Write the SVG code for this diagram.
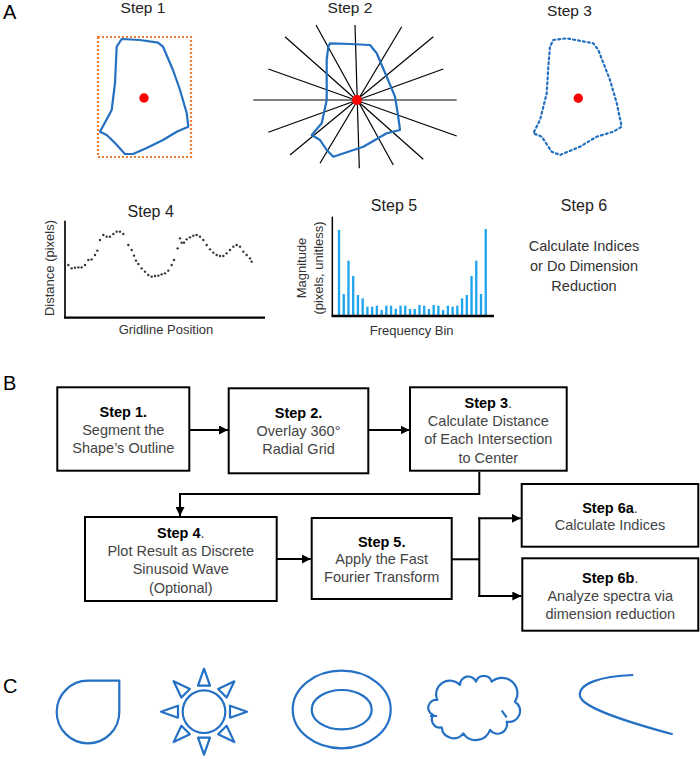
<svg xmlns="http://www.w3.org/2000/svg" width="700" height="759" viewBox="0 0 700 759">
<defs>
<style>
text{font-family:"Liberation Sans",Arial,sans-serif;}
.lbl{font-size:20px;fill:#000;}
.ttl{font-size:15.5px;fill:#222;text-anchor:middle;}
.ax{font-size:13px;fill:#333;text-anchor:middle;}
.bt{font-size:14.5px;fill:#444;text-anchor:middle;}
.bb{font-weight:bold;fill:#000;}
.box{fill:#fff;stroke:#000;stroke-width:2;}
.blob{fill:none;stroke:#2470C0;stroke-width:2.2;stroke-linejoin:round;stroke-linecap:round;}
.grid line{stroke:#000;stroke-width:1.2;}
.conn{fill:none;stroke:#000;stroke-width:2;}
.shp{fill:none;stroke:#2470C4;stroke-width:2.2;stroke-linejoin:round;}
.dot{fill:#333;}
.bar{fill:#1FA5EE;}
</style>
<marker id="ah" markerUnits="userSpaceOnUse" markerWidth="9" markerHeight="9" refX="9" refY="4.5" orient="auto">
<path d="M0,0 L9,4.5 L0,9 z" fill="#000"/>
</marker>
<path id="tri" d="M0,-43 L6,-26 L-6,-26 Z"/>
</defs>

<!-- Panel A -->
<text class="lbl" x="3" y="18.5">A</text>

<g id="stepA1">
<text class="ttl" x="143" y="13">Step 1</text>
<rect x="98" y="37" width="93" height="120" fill="none" stroke="#ED7D31" stroke-width="2.2" stroke-dasharray="2 2"/>
<path class="blob" d="M121.7,39 L140,40 L158,42.7 L163,46.7 L173,70 L180,90 L186.7,113 L188.3,126.7 L176.7,131.7 L163,140 L146.7,148 L133,154 L125,154 L115,143 L106.7,135 L100,131.7 L111.7,110 L115,83 L116.7,46.7 Z"/>
<circle cx="144" cy="98" r="4.7" fill="#FF0000"/>
</g>

<g id="stepA2">
<text class="ttl" x="350" y="13">Step 2</text>
<g class="grid">
<line x1="253.3" y1="100" x2="456.7" y2="100"/>
<line x1="355" y1="25" x2="359.3" y2="168.3"/>
<line x1="285" y1="36.7" x2="423.3" y2="159.3"/>
<line x1="316" y1="25" x2="393.3" y2="165"/>
<line x1="268.3" y1="69" x2="456.7" y2="136"/>
<line x1="401.7" y1="26.7" x2="320" y2="163.3"/>
<line x1="443.3" y1="69" x2="268.3" y2="132.3"/>
<line x1="433.3" y1="36.7" x2="290" y2="155"/>
</g>
<path class="blob" d="M330,43.3 L350,44 L370,45 L376.7,53.3 L386.7,76.7 L395,96.7 L398,115 L400,130 L386.7,133.3 L363.3,146.7 L333.3,156.7 L326.7,150 L320,140 L311.7,135 L321.7,123.3 L326.7,100 L326.7,60 L328.3,46.7 Z"/>
<circle cx="357" cy="100" r="5" fill="#FF0000"/>
</g>

<g id="stepA3">
<text class="ttl" x="569.5" y="15.5">Step 3</text>
<path class="blob" stroke-dasharray="2 3" stroke-linecap="butt" d="M553.3,40 L566.7,38.3 L593.3,43.3 L598.3,50 L610,80 L616.7,103 L621.7,126.7 L613.3,131.7 L596.7,136.7 L580,146.7 L560,155 L551.7,151.7 L541.7,136.7 L533.3,133.3 L540,120 L546.7,93.3 L548.3,66.7 L550,46.7 Z"/>
<circle cx="578.3" cy="98.3" r="4.7" fill="#FF0000"/>
</g>

<g id="stepA4">
<text class="ttl" x="150.7" y="216.5" style="font-size:16px">Step 4</text>
<text class="ax" transform="translate(53.5,268) rotate(-90)">Distance (pixels)</text>
<text class="ax" x="166" y="334">Gridline Position</text>
<g transform="translate(30,190) scale(0.33333)">
<line x1="105" y1="92" x2="105" y2="385" stroke="#000" stroke-width="5"/>
<line x1="102" y1="383" x2="705" y2="383" stroke="#000" stroke-width="7"/>
<g class="dot">
<circle cx="115" cy="225" r="3.6"/><circle cx="125" cy="235" r="3.6"/><circle cx="135" cy="233" r="3.6"/><circle cx="145" cy="232" r="3.6"/><circle cx="155" cy="232" r="3.6"/><circle cx="165" cy="225" r="3.6"/><circle cx="175" cy="210" r="3.6"/><circle cx="185" cy="208" r="3.6"/><circle cx="195" cy="195" r="3.6"/><circle cx="202" cy="182" r="3.6"/><circle cx="210" cy="150" r="3.6"/><circle cx="220" cy="135" r="3.6"/><circle cx="230" cy="140" r="3.6"/><circle cx="240" cy="140" r="3.6"/><circle cx="250" cy="132" r="3.6"/><circle cx="260" cy="125" r="3.6"/><circle cx="270" cy="125" r="3.6"/><circle cx="280" cy="132" r="3.6"/><circle cx="295" cy="165" r="3.6"/><circle cx="305" cy="180" r="3.6"/><circle cx="312" cy="197" r="3.6"/><circle cx="318" cy="212" r="3.6"/><circle cx="325" cy="222" r="3.6"/><circle cx="335" cy="235" r="3.6"/><circle cx="345" cy="245" r="3.6"/><circle cx="355" cy="255" r="3.6"/><circle cx="365" cy="260" r="3.6"/><circle cx="375" cy="258" r="3.6"/><circle cx="385" cy="257" r="3.6"/><circle cx="395" cy="253" r="3.6"/><circle cx="405" cy="250" r="3.6"/><circle cx="415" cy="242" r="3.6"/><circle cx="425" cy="225" r="3.6"/><circle cx="432" cy="210" r="3.6"/><circle cx="443" cy="175" r="3.6"/><circle cx="450" cy="145" r="3.6"/><circle cx="455" cy="158" r="3.6"/><circle cx="462" cy="158" r="3.6"/><circle cx="470" cy="148" r="3.6"/><circle cx="480" cy="142" r="3.6"/><circle cx="490" cy="137" r="3.6"/><circle cx="500" cy="135" r="3.6"/><circle cx="510" cy="140" r="3.6"/><circle cx="520" cy="150" r="3.6"/><circle cx="530" cy="165" r="3.6"/><circle cx="540" cy="178" r="3.6"/><circle cx="550" cy="188" r="3.6"/><circle cx="560" cy="195" r="3.6"/><circle cx="570" cy="198" r="3.6"/><circle cx="580" cy="198" r="3.6"/><circle cx="590" cy="190" r="3.6"/><circle cx="600" cy="180" r="3.6"/><circle cx="610" cy="170" r="3.6"/><circle cx="620" cy="165" r="3.6"/><circle cx="630" cy="170" r="3.6"/><circle cx="640" cy="185" r="3.6"/><circle cx="650" cy="195" r="3.6"/><circle cx="660" cy="205" r="3.6"/><circle cx="665" cy="215" r="3.6"/>
</g>
</g>
</g>

<g id="stepA5">
<text class="ttl" x="394" y="210.5" style="font-size:16px">Step 5</text>
<text class="ax" transform="translate(306,268) rotate(-90)">Magnitude</text>
<text class="ax" transform="translate(322.5,268) rotate(-90)">(pixels, unitless)</text>
<text class="ax" x="411.7" y="334.5">Frequency Bin</text>
<g transform="translate(280,190) scale(0.33333)">
<g class="bar">
<rect x="173.5" y="120" width="7" height="255"/><rect x="187.7" y="312" width="7" height="63"/><rect x="201.9" y="212" width="7" height="163"/><rect x="216.1" y="258" width="7" height="117"/><rect x="230.3" y="315" width="7" height="60"/><rect x="244.5" y="325" width="7" height="50"/><rect x="258.7" y="350" width="7" height="25"/><rect x="272.9" y="350" width="7" height="25"/><rect x="287.1" y="347" width="7" height="28"/><rect x="301.3" y="360" width="7" height="15"/><rect x="315.5" y="347" width="7" height="28"/><rect x="329.7" y="347" width="7" height="28"/><rect x="343.9" y="356" width="7" height="19"/><rect x="358.1" y="347" width="7" height="28"/><rect x="372.3" y="347" width="7" height="28"/><rect x="386.5" y="357" width="7" height="18"/><rect x="400.7" y="357" width="7" height="18"/><rect x="414.9" y="345" width="7" height="30"/><rect x="429.1" y="347" width="7" height="28"/><rect x="443.3" y="357" width="7" height="18"/><rect x="457.5" y="345" width="7" height="30"/><rect x="471.7" y="347" width="7" height="28"/><rect x="485.9" y="360" width="7" height="15"/><rect x="500.1" y="347" width="7" height="28"/><rect x="514.3" y="350" width="7" height="25"/><rect x="528.5" y="347" width="7" height="28"/><rect x="542.7" y="325" width="7" height="50"/><rect x="556.9" y="315" width="7" height="60"/><rect x="571.1" y="258" width="7" height="117"/><rect x="585.3" y="212" width="7" height="163"/><rect x="599.5" y="312" width="7" height="63"/><rect x="613.7" y="117" width="7" height="258"/>
</g>
<line x1="157" y1="80" x2="157" y2="380" stroke="#000" stroke-width="4.5"/>
<line x1="155" y1="378" x2="642" y2="378" stroke="#000" stroke-width="7"/>
</g>
</g>

<g id="stepA6">
<text class="ttl" x="584" y="210.5" style="font-size:16px">Step 6</text>
<text class="bt" x="584" y="251" style="fill:#333">Calculate Indices</text>
<text class="bt" x="584" y="271" style="fill:#333">or Do Dimension</text>
<text class="bt" x="584" y="291" style="fill:#333">Reduction</text>
</g>

<!-- Panel B -->
<text class="lbl" x="3" y="390">B</text>

<g id="connectors">
<line class="conn" x1="189.3" y1="430" x2="228" y2="430" marker-end="url(#ah)"/>
<line class="conn" x1="368.3" y1="430" x2="409.5" y2="430" marker-end="url(#ah)"/>
<path class="conn" d="M479.3,471.7 V494 H180 V516" marker-end="url(#ah)"/>
<line class="conn" x1="276.7" y1="559" x2="310.8" y2="559" marker-end="url(#ah)"/>
<path class="conn" d="M451.7,559.3 H479.3"/>
<path class="conn" d="M479.3,517.3 V597"/>
<line class="conn" x1="478.3" y1="518.3" x2="520.8" y2="518.3" marker-end="url(#ah)"/>
<line class="conn" x1="478.3" y1="596" x2="521.3" y2="596" marker-end="url(#ah)"/>
</g>

<g id="box1">
<rect class="box" x="57.3" y="387.3" width="132" height="83.4"/>
<text class="bt" x="123.3" y="417"><tspan class="bb">Step 1.</tspan></text>
<text class="bt" x="123.3" y="435">Segment the</text>
<text class="bt" x="123.3" y="453">Shape’s Outline</text>
</g>

<g id="box2">
<rect class="box" x="228.7" y="388.3" width="139.6" height="85"/>
<text class="bt" x="298.5" y="418.3"><tspan class="bb">Step 2.</tspan></text>
<text class="bt" x="298.5" y="436">Overlay 360°</text>
<text class="bt" x="298.5" y="454">Radial Grid</text>
</g>

<g id="box3">
<rect class="box" x="410" y="387.3" width="156.7" height="83.4"/>
<text class="bt" x="488.3" y="407.7"><tspan class="bb">Step 3</tspan>.</text>
<text class="bt" x="488.3" y="425.7">Calculate Distance</text>
<text class="bt" x="488.3" y="444">of Each Intersection</text>
<text class="bt" x="488.3" y="462.7">to Center</text>
</g>

<g id="box4">
<rect class="box" x="85" y="517" width="191.7" height="84"/>
<text class="bt" x="180.8" y="537.7"><tspan class="bb">Step 4</tspan>.</text>
<text class="bt" x="180.8" y="556">Plot Result as Discrete</text>
<text class="bt" x="180.8" y="574.3">Sinusoid Wave</text>
<text class="bt" x="180.8" y="593">(Optional)</text>
</g>

<g id="box5">
<rect class="box" x="311.7" y="518" width="140" height="81"/>
<text class="bt" x="381.7" y="546.7"><tspan class="bb">Step 5.</tspan></text>
<text class="bt" x="381.7" y="564.3">Apply the Fast</text>
<text class="bt" x="381.7" y="582.3">Fourier Transform</text>
</g>

<g id="box6a">
<rect class="box" x="521.7" y="484" width="176.6" height="62.7"/>
<text class="bt" x="610" y="513.3"><tspan class="bb">Step 6a</tspan>.</text>
<text class="bt" x="610" y="530">Calculate Indices</text>
</g>

<g id="box6b">
<rect class="box" x="522.3" y="558.3" width="176" height="72.4"/>
<text class="bt" x="610.3" y="583.3"><tspan class="bb">Step 6b</tspan>.</text>
<text class="bt" x="610.3" y="601">Analyze spectra via</text>
<text class="bt" x="610.3" y="619">dimension reduction</text>
</g>

<!-- Panel C -->
<text class="lbl" x="3" y="693">C</text>

<g id="shapeDrop">
<path class="shp" d="M88,680.7 L119.3,680.7 L119.3,712 A31.3,31.3 0 1 1 88,680.7 Z"/>
</g>

<g id="shapeSun">
<circle class="shp" cx="204" cy="711.7" r="21.3"/>
<g transform="translate(204,711.7)" class="shp">
<use href="#tri"/>
<use href="#tri" transform="rotate(45)"/>
<use href="#tri" transform="rotate(90)"/>
<use href="#tri" transform="rotate(135)"/>
<use href="#tri" transform="rotate(180)"/>
<use href="#tri" transform="rotate(225)"/>
<use href="#tri" transform="rotate(270)"/>
<use href="#tri" transform="rotate(315)"/>
</g>
</g>

<g id="shapeRing">
<ellipse class="shp" cx="341.7" cy="709.5" rx="49" ry="38.8"/>
<ellipse class="shp" cx="341.7" cy="709.7" rx="30" ry="19.7"/>
</g>

<g id="shapeCloud">
<path class="shp" d="M437.3,700 A13.8,13.8 0 0 1 460,685 A8.3,8.3 0 0 1 476,681.7 A8.2,8.2 0 0 1 491.7,681.7 A15.5,15.5 0 0 1 515,701.7 A11,11 0 0 1 506.7,721.7 A9.5,9.5 0 0 1 490,730 A15,15 0 0 1 463.3,733.3 A12,12 0 0 1 441.7,727.3 A8,8 0 0 1 433.3,715 A7.8,7.8 0 0 1 437.3,700 Z"/>
<path class="shp" d="M430,716 L437,716 M501.7,710.7 L506.7,717.3"/>
</g>

<g id="shapeCurve">
<path class="shp" d="M633.3,675 C600,676 578,684 580,696 C582,707 620,720 672.7,734.3"/>
</g>
</svg>
